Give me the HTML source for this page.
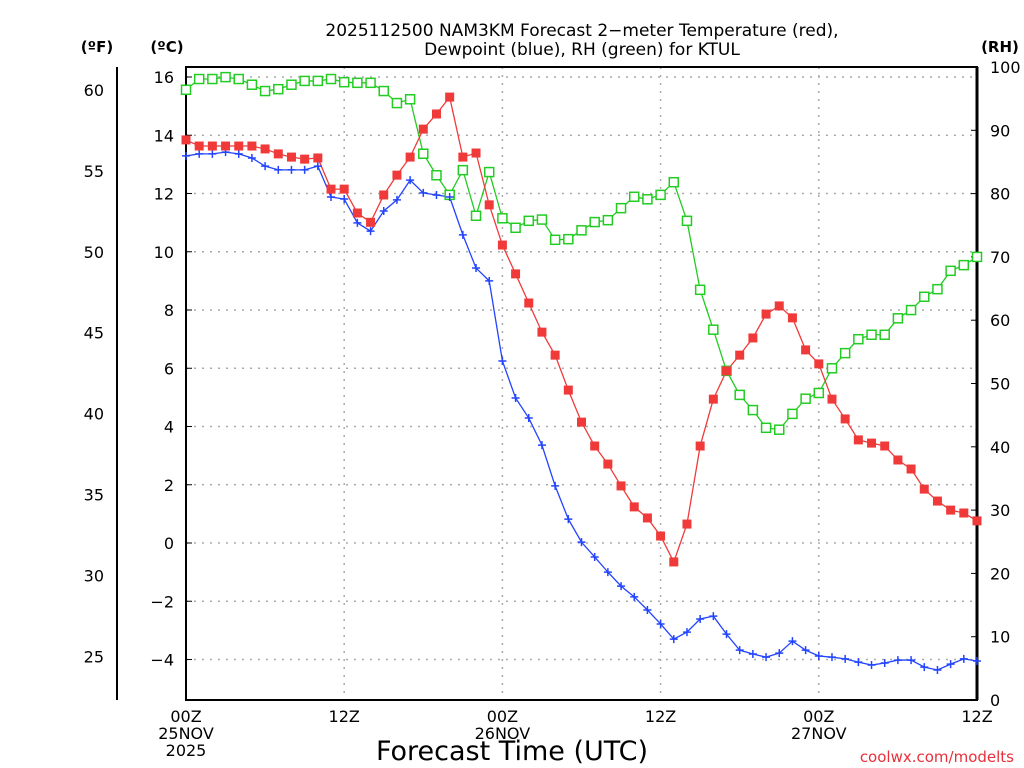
<!DOCTYPE html>
<html><head><meta charset="utf-8"><style>
html,body{margin:0;padding:0;background:#fff;}
svg{display:block;font-family:"DejaVu Sans","Liberation Sans",sans-serif;}
</style></head><body>
<svg id="chart" width="1024" height="768" viewBox="0 0 1024 768" xmlns="http://www.w3.org/2000/svg">
<text x="582" y="36" font-size="17" text-anchor="middle">2025112500 NAM3KM Forecast 2−meter Temperature (red),</text>
<text x="582" y="55" font-size="17" text-anchor="middle">Dewpoint (blue), RH (green) for KTUL</text>
<text x="97" y="52" font-size="15" font-weight="bold" text-anchor="middle">(ºF)</text>
<text x="167" y="52" font-size="15" font-weight="bold" text-anchor="middle">(ºC)</text>
<text x="1000" y="52" font-size="15" font-weight="bold" text-anchor="middle">(RH)</text>
<text x="512" y="760" font-size="27" text-anchor="middle">Forecast Time (UTC)</text>
<text x="1014" y="762" font-size="15" fill="#e8303a" text-anchor="end">coolwx.com/modelts</text>
<g id="grid"></g>
<g id="axes"></g>
<g id="series"></g>
</svg>
<script>
const hours = [];for(let i=0;i<=60;i++)hours.push(i);
const tempC = [13.84,13.63,13.63,13.63,13.63,13.63,13.53,13.36,13.25,13.18,13.22,12.15,12.15,11.33,11.01,11.95,12.63,13.25,14.21,14.73,15.31,13.25,13.39,11.61,10.23,9.24,8.24,7.24,6.45,5.25,4.15,3.33,2.71,1.96,1.24,0.86,0.24,-0.65,0.65,3.33,4.94,5.91,6.45,7.04,7.86,8.14,7.73,6.63,6.15,4.94,4.26,3.54,3.43,3.33,2.85,2.54,1.85,1.44,1.13,1.03,0.76];
const dewC = [13.29,13.36,13.36,13.42,13.36,13.22,12.94,12.81,12.81,12.81,12.94,11.88,11.81,10.99,10.71,11.40,11.78,12.46,12.02,11.95,11.88,10.58,9.44,9.00,6.25,4.98,4.29,3.36,1.96,0.82,0.03,-0.48,-1.00,-1.48,-1.85,-2.30,-2.78,-3.30,-3.06,-2.61,-2.51,-3.13,-3.68,-3.81,-3.92,-3.78,-3.37,-3.68,-3.88,-3.92,-3.98,-4.09,-4.19,-4.12,-4.02,-4.02,-4.26,-4.36,-4.16,-3.98,-4.05];
const rh = [96.4,98.1,98.1,98.4,98.1,97.2,96.2,96.5,97.2,97.8,97.8,98.1,97.6,97.5,97.5,96.2,94.3,94.9,86.3,82.9,79.8,83.7,76.5,83.4,76.1,74.6,75.7,75.9,72.7,72.8,74.2,75.5,75.8,77.7,79.5,79.1,79.8,81.8,75.7,64.8,58.5,52.0,48.2,45.8,43.0,42.7,45.2,47.6,48.5,52.4,54.8,57.0,57.7,57.7,60.3,61.6,63.7,64.9,67.8,68.7,70.0];
const cTicks = [-4,-2,0,2,4,6,8,10,12,14,16];
const fTicks = [25,30,35,40,45,50,55,60];
const rhTicks = [0,10,20,30,40,50,60,70,80,90,100];
const xTickHours = [0,12,24,36,48,60];
const xTickLabels = [["00Z","25NOV","2025"],["12Z"],["00Z","26NOV"],["12Z"],["00Z","27NOV"],["12Z"]];

const L=186,R=977,T=67,B=700;
const X=h=>L+(R-L)*h/60;
const YC=c=>77+(16-c)*29.125;
const YF=f=>YC((f-32)*5/9);
const YR=r=>B-(B-T)*r/100;
const NS="http://www.w3.org/2000/svg";
function mk(tag,attrs,parent,txt){const e=document.createElementNS(NS,tag);for(const k in attrs)e.setAttribute(k,attrs[k]);if(txt!==undefined)e.textContent=txt;parent.appendChild(e);return e;}
const grid=document.getElementById('grid'),axes=document.getElementById('axes'),ser=document.getElementById('series');
cTicks.forEach(c=>{
  const g=mk('line',{x1:L,x2:R,y1:YC(c),y2:YC(c),stroke:'#aaa','stroke-width':1.5,'stroke-dasharray':'2,6'},grid);
  
  
  const t=mk('text',{x:174,y:YC(c)+6,'font-size':16,'text-anchor':'end'},axes,(c<0?'−'+(-c):''+c));
  
  
  mk('line',{x1:L,x2:L+6,y1:YC(c),y2:YC(c),stroke:'#000'},axes);
});
xTickHours.forEach((h,i)=>{
  if(h>0&&h<60){const g=mk('line',{x1:X(h),x2:X(h),y1:T,y2:B,stroke:'#aaa','stroke-width':1.5,'stroke-dasharray':'2,6'},grid);
  
  }
  xTickLabels[i].forEach((s,j)=>{const t=mk('text',{x:X(h),y:722+j*17,'font-size':16,'text-anchor':'middle'},axes,s);
  
  });
});
fTicks.forEach(f=>{
  const t=mk('text',{x:104,y:YF(f)+6,'font-size':16,'text-anchor':'end'},axes,''+f);
  
  
});
mk('line',{x1:117,x2:117,y1:T,y2:B,stroke:'#000','stroke-width':2},axes);
rhTicks.forEach(r=>{
  const t=mk('text',{x:990,y:YR(r)+6,'font-size':16,'text-anchor':'start'},axes,''+r);
  
  
  mk('line',{x1:R-6,x2:R,y1:YR(r),y2:YR(r),stroke:'#000'},axes);
});
mk('rect',{x:L,y:T,width:R-L,height:B-T,fill:'none',stroke:'#000','stroke-width':2},axes);
mk('line',{x1:R,x2:R,y1:T,y2:B,stroke:'#000','stroke-width':3},axes);

function line(vals,yf,color,name){
  const p=mk('polyline',{points:vals.map((v,i)=>X(hours[i])+','+yf(v)).join(' '),fill:'none',stroke:color,'stroke-width':1.3},ser);
  
  
}
line(rh,YR,'#22cc22','rh-line');
line(dewC,YC,'#2244ff','dewpoint-line');
line(tempC,YC,'#f03a3a','temperature-line');
rh.forEach((v,i)=>{const m=mk('rect',{x:X(hours[i])-4.5,y:YR(v)-4.5,width:9,height:9,fill:'#fff',stroke:'#22cc22','stroke-width':1.5},ser);
  
  });
dewC.forEach((v,i)=>{const x=X(hours[i]),y=YC(v);const m=mk('path',{d:`M${x-4},${y}H${x+4}M${x},${y-4}V${y+4}`,stroke:'#2244ff','stroke-width':1.5},ser);
  
  });
tempC.forEach((v,i)=>{const m=mk('rect',{x:X(hours[i])-4.5,y:YC(v)-4.5,width:9,height:9,fill:'#f03a3a'},ser);
  
  });
</script>
</body></html>
